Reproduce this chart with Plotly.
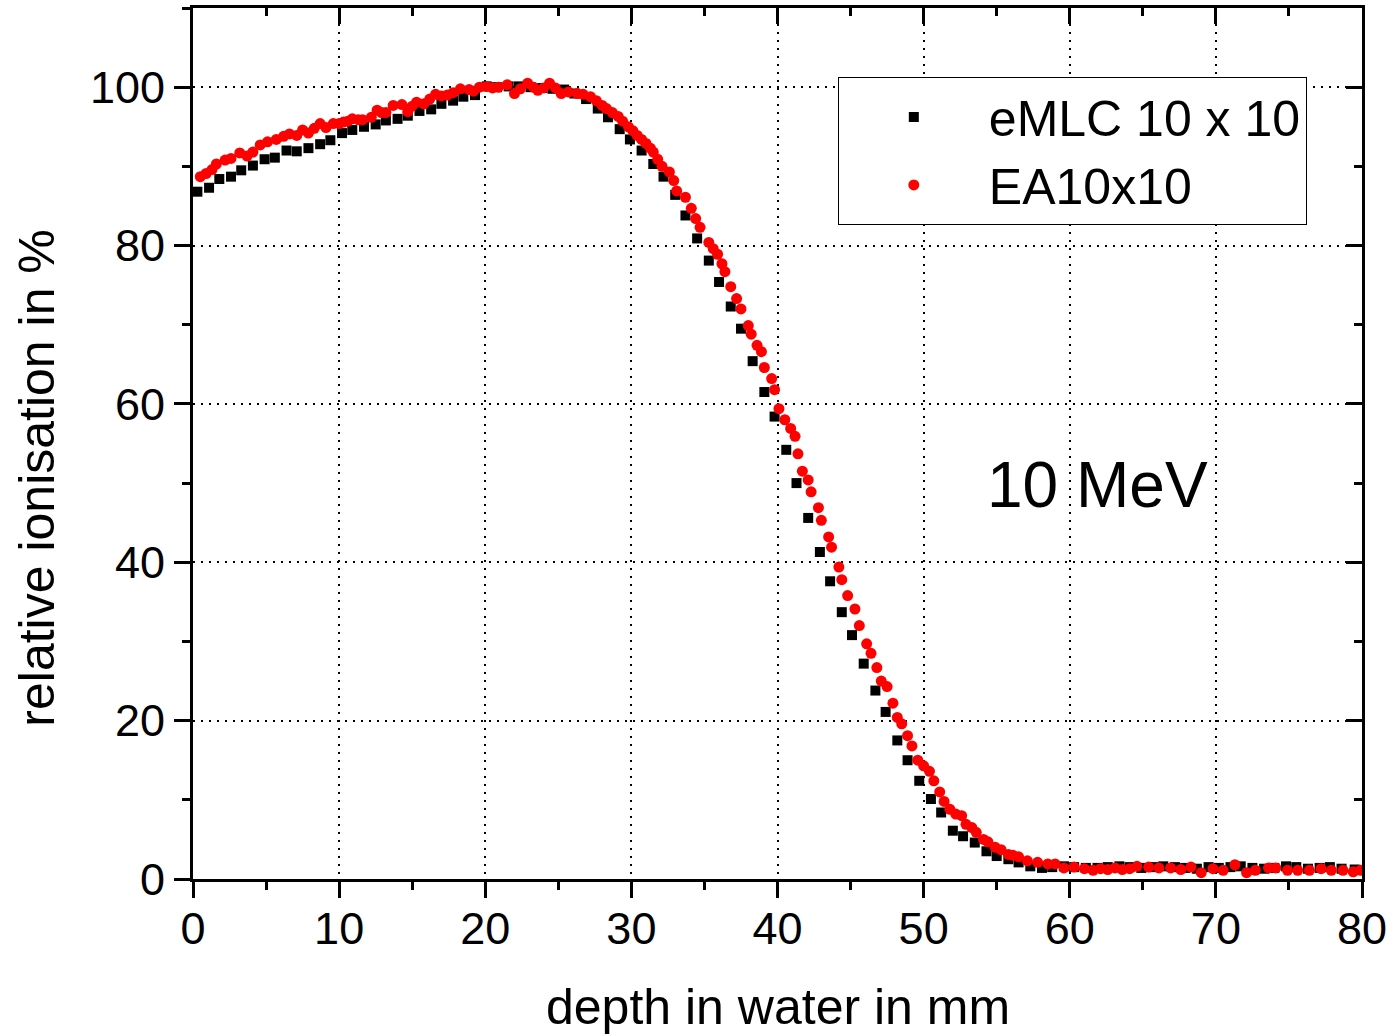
import plotly.graph_objects as go

# eMLC 10 x 10 (black squares)
emlc_depth = [0.3, 1.1, 1.8, 2.6, 3.3, 4.1, 4.9, 5.6, 6.4, 7.1, 7.9, 8.7, 9.4, 10.2, 10.9, 11.7,
              12.5, 13.2, 14.0, 14.7, 15.5, 16.3, 17.0, 17.8, 18.5, 19.3, 20.1, 20.8, 21.6, 22.3,
              23.1, 23.9, 24.6, 25.4, 26.1, 26.9, 27.7, 28.4, 29.2, 29.9, 30.7, 31.5, 32.2, 33.0,
              33.7, 34.5, 35.3, 36.0, 36.8, 37.5, 38.3, 39.1, 39.8, 40.6, 41.3, 42.1, 42.9, 43.6,
              44.4, 45.1, 45.9, 46.7, 47.4, 48.2, 48.9, 49.7, 50.5, 51.2, 52.0, 52.7, 53.5, 54.3,
              55.0, 55.8, 56.5, 57.3, 58.1, 58.8, 59.6, 60.3, 61.1, 61.9, 62.6, 63.4, 64.1, 64.9,
              65.7, 66.4, 67.2, 67.9, 68.7, 69.5, 70.2, 71.0, 71.7, 72.5, 73.3, 74.0, 74.8, 75.5,
              76.3, 77.1, 77.8, 78.6, 79.5]
emlc_ion = [86.8, 87.3, 88.4, 88.7, 89.5, 90.1, 90.9, 91.1, 92.0, 91.9, 92.3, 92.8, 93.3, 94.2, 94.6, 95.0,
            95.3, 95.8, 96.0, 96.4, 97.0, 97.2, 97.9, 98.3, 98.8, 99.0, 100.1, 100.0, 100.1, 100.1,
            100.0, 99.9, 99.8, 99.7, 99.2, 98.5, 97.3, 96.2, 94.7, 93.4, 92.0, 90.3, 88.7, 86.4,
            83.8, 80.9, 78.1, 75.4, 72.3, 69.5, 65.4, 61.5, 58.4, 54.2, 50.0, 45.6, 41.3, 37.6,
            33.7, 30.8, 27.2, 23.8, 21.1, 17.5, 15.0, 12.4, 10.1, 8.4, 6.1, 5.4, 4.6, 3.5,
            2.9, 2.5, 2.1, 1.6, 1.4, 1.5, 1.6, 1.5, 1.4, 1.4, 1.5, 1.6, 1.5, 1.4,
            1.5, 1.6, 1.5, 1.4, 1.3, 1.5, 1.4, 1.5, 1.6, 1.4, 1.3, 1.4, 1.6, 1.5,
            1.3, 1.4, 1.5, 1.3, 1.2]

# EA10x10 (red circles)
ea_depth = [0.5, 0.9, 1.3, 1.6, 2.2, 2.6, 3.2, 3.7, 4.1, 4.6, 5.1, 5.7, 6.2, 6.6, 7.1, 7.5, 7.9, 8.3,
            8.7, 9.1, 9.6, 10.0, 10.3, 10.6, 10.9, 11.3, 11.6, 12.2, 12.6, 12.9, 13.2, 13.7, 14.3,
            14.7, 15.0, 15.3, 15.8, 16.2, 16.6, 17.0, 17.4, 17.8, 18.3, 18.9, 19.2, 19.6, 20.1,
            20.5, 20.9, 21.5, 22.0, 22.4, 22.9, 23.3, 23.6, 24.0, 24.4, 24.8, 25.2, 25.7, 26.3,
            26.7, 27.2, 27.6, 28.0, 28.3, 28.7, 29.1, 29.4, 29.8, 30.1, 30.4, 30.7, 31.0, 31.3,
            31.5, 31.8, 32.1, 32.6, 32.9, 33.1, 33.7, 34.1, 34.4, 34.7, 35.3, 35.6, 35.9, 36.2,
            36.4, 36.8, 37.2, 37.5, 38.0, 38.2, 38.6, 38.9, 39.1, 39.6, 39.8, 40.1, 40.5, 40.9,
            41.2, 41.4, 41.7, 42.1, 42.3, 42.8, 43.0, 43.5, 43.7, 44.2, 44.4, 44.8, 45.3, 45.6,
            46.1, 46.4, 46.8, 47.1, 47.5, 47.9, 48.2, 48.5, 48.9, 49.2, 49.6, 50.0, 50.4, 50.7,
            51.1, 51.4, 51.8, 52.2, 52.6, 52.9, 53.3, 53.6, 54.1, 54.4, 54.9, 55.3, 55.8, 56.1,
            56.5, 57.1, 57.8, 58.5, 59.0, 59.6, 60.3, 61.0, 61.6, 62.1, 62.6, 63.1, 63.6, 64.1,
            64.6, 65.4, 66.1, 66.9, 67.6, 68.3, 69.0, 69.8, 70.5, 71.3, 72.1, 72.7, 73.6, 74.1,
            74.9, 75.6, 76.4, 77.2, 77.9, 78.7, 79.4, 79.9]
ea_ion = [88.7, 89.1, 89.6, 90.3, 90.8, 91.0, 91.7, 91.3, 91.8, 92.7, 93.1, 93.4, 93.8, 94.1, 93.9, 94.6, 94.2, 94.8,
          95.4, 94.9, 95.4, 95.4, 95.6, 95.7, 96.0, 95.9, 95.9, 96.2, 97.1, 96.8, 96.8, 97.7, 97.8,
          96.9, 97.6, 98.1, 97.9, 98.5, 99.1, 98.9, 99.0, 99.3, 99.8, 99.7, 99.5, 100.0, 100.1,
          99.9, 100.0, 100.3, 99.2, 99.8, 100.5, 100.0, 99.6, 99.9, 100.5, 99.9, 99.2, 99.4, 99.2,
          99.1, 98.8, 98.3, 97.7, 97.3, 96.8, 96.3, 95.7, 95.0, 94.5, 93.9, 93.4, 92.9, 92.3,
          91.8, 90.9, 90.0, 89.3, 88.2, 86.9, 86.1, 84.7, 83.4, 82.3, 80.4, 79.6, 78.9, 77.7,
          76.7, 74.8, 73.3, 72.0, 69.9, 68.8, 67.4, 66.6, 64.6, 63.2, 61.8, 59.4, 58.0, 56.9,
          55.9, 53.7, 51.5, 50.4, 48.9, 46.9, 45.3, 43.2, 41.9, 39.4, 37.8, 35.8, 34.1, 32.0,
          29.7, 28.5, 26.7, 25.0, 24.3, 22.2, 20.4, 19.6, 18.1, 16.8, 15.0, 14.3, 13.6, 12.4,
          11.0, 9.8, 8.8, 8.2, 8.0, 6.9, 6.5, 5.9, 5.0, 4.7, 4.0, 3.7, 3.1, 3.0,
          2.8, 2.3, 2.1, 1.9, 1.9, 1.4, 1.5, 1.3, 1.1, 1.3, 1.2, 1.4, 1.2, 1.3,
          1.6, 1.5, 1.4, 1.4, 1.2, 1.5, 0.8, 1.3, 1.1, 1.8, 0.8, 1.1, 1.4, 1.4,
          1.1, 1.1, 1.1, 1.3, 1.1, 1.1, 0.9, 1.1]

x_ticks = [0, 10, 20, 30, 40, 50, 60, 70, 80]
y_ticks = [0, 20, 40, 60, 80, 100]

FONT = "Liberation Sans, Arial, sans-serif"

fig = go.Figure()
fig.add_trace(go.Scatter(x=emlc_depth, y=emlc_ion, mode="markers", name="eMLC 10 x 10",
                         marker=dict(symbol="square", size=10, color="black", line=dict(width=0))))
fig.add_trace(go.Scatter(x=ea_depth, y=ea_ion, mode="markers", name="EA10x10",
                         marker=dict(symbol="circle", size=11, color="#ff0000", line=dict(width=0))))
# helper trace to create the top/right axes
fig.add_trace(go.Scatter(x=[None], y=[None], xaxis="x2", yaxis="y2", showlegend=False,
                         hoverinfo="skip", mode="markers"))

axis_common = dict(showline=True, linewidth=3, linecolor="black", zeroline=False,
                   tickcolor="black", tickwidth=3, ticklen=16,
                   tickfont=dict(family=FONT, size=45, color="black"))

fig.update_layout(
    width=1395, height=1036,
    margin=dict(l=193, r=29, t=8, b=157),
    paper_bgcolor="white", plot_bgcolor="white",
    showlegend=True,
    legend=dict(x=0.5516, y=0.9208, xanchor="left", yanchor="top",
                bgcolor="white", bordercolor="black", borderwidth=1,
                font=dict(family=FONT, size=50, color="black"),
                itemwidth=140, tracegroupgap=0),
    xaxis=dict(range=[0, 80], tickvals=x_ticks, ticks="outside", ticklabelstandoff=-8,
               showgrid=True, gridcolor="black", gridwidth=1.5, griddash="2px,6px",
               minor=dict(ticks="outside", ticklen=8, tickwidth=3, tickcolor="black",
                          dtick=5, tick0=0, showgrid=False),
               **axis_common),
    yaxis=dict(range=[0, 110], tickvals=y_ticks, ticks="outside",
               showgrid=True, gridcolor="black", gridwidth=1.5, griddash="2px,6px",
               minor=dict(ticks="outside", ticklen=8, tickwidth=3, tickcolor="black",
                          dtick=10, tick0=0, showgrid=False),
               **axis_common),
    xaxis2=dict(range=[0, 80], overlaying="x", side="top", anchor="y2",
                tickvals=x_ticks, ticks="inside", showticklabels=False, showgrid=False,
                minor=dict(ticks="inside", ticklen=8, tickwidth=3, tickcolor="black",
                           dtick=5, tick0=0, showgrid=False),
                **axis_common),
    yaxis2=dict(range=[0, 110], overlaying="y", side="right", anchor="x2",
                tickvals=y_ticks, ticks="inside", showticklabels=False, showgrid=False,
                minor=dict(ticks="inside", ticklen=8, tickwidth=3, tickcolor="black",
                           dtick=10, tick0=0, showgrid=False),
                **axis_common),
    annotations=[
        dict(text="10 MeV", x=61.9, y=49.7, xref="x", yref="y", showarrow=False,
             font=dict(family=FONT, size=64, color="black"), xanchor="center", yanchor="middle"),
        dict(text="depth in water in mm", x=0.5, y=-0.1469, xref="paper", yref="paper",
             showarrow=False, font=dict(family=FONT, size=50, color="black"),
             xanchor="center", yanchor="middle"),
        dict(text="relative ionisation in %", x=-0.1338, y=0.4603, xref="paper", yref="paper",
             showarrow=False, textangle=-90, font=dict(family=FONT, size=50, color="black"),
             xanchor="center", yanchor="middle"),
    ],
)

fig.write_html("out.html", config={"displayModeBar": False},
               post_script="document.body.style.margin='0px';document.body.style.padding='0px';")
